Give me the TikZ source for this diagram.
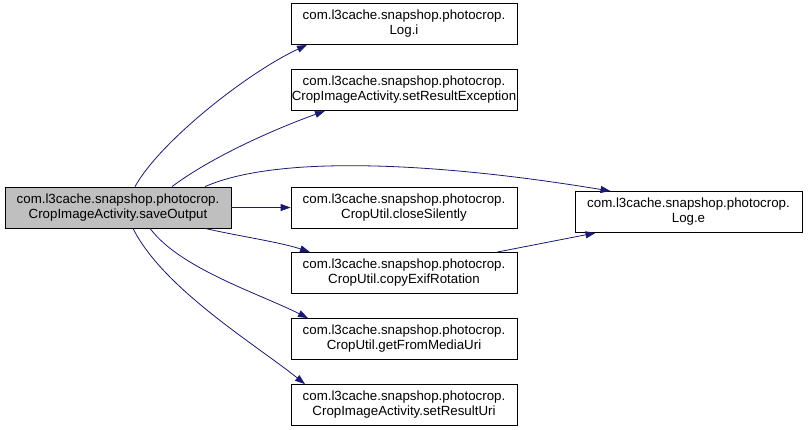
\documentclass[tikz,border=0pt]{standalone}
\usepackage{fontspec}
\setmainfont{Liberation Sans}
\usetikzlibrary{arrows.meta}
\definecolor{edgeblue}{HTML}{191970}
\definecolor{boxgray}{HTML}{BFBFBF}
\begin{document}
\begin{tikzpicture}[x=1pt,y=-1pt,
 fn/.style={draw=black, line width=0.8pt, fill=white, minimum width=226pt, minimum height=41pt, inner sep=0pt, align=center, font=\fontsize{13.3}{15}\selectfont},
 edge/.style={draw=edgeblue, line width=0.8pt, -{Triangle[length=10pt,width=7pt]}}]
\useasboundingbox (0,0) rectangle (808,429);
\node[fn, fill=boxgray] (save) at (118,207.5) {com.l3cache.snapshop.photocrop.\\CropImageActivity.saveOutput};
\node[fn] (logi) at (404,24) {com.l3cache.snapshop.photocrop.\\Log.i};
\node[fn] (sre) at (404,90) {com.l3cache.snapshop.photocrop.\\CropImageActivity.setResultException};
\node[fn] (cs) at (404,207.5) {com.l3cache.snapshop.photocrop.\\CropUtil.closeSilently};
\node[fn] (cer) at (404,273) {com.l3cache.snapshop.photocrop.\\CropUtil.copyExifRotation};
\node[fn] (gfm) at (404,339) {com.l3cache.snapshop.photocrop.\\CropUtil.getFromMediaUri};
\node[fn] (sru) at (404,405) {com.l3cache.snapshop.photocrop.\\CropImageActivity.setResultUri};
\node[fn, minimum width=227pt] (loge) at (688.5,212) {com.l3cache.snapshop.photocrop.\\Log.e};
\draw[edge] ([xshift=17pt]save.north) .. controls +(25,-45) and +(-60,28) .. ([xshift=-97pt]logi.south);
\draw[edge] ([xshift=54pt]save.north) .. controls +(40,-30) and +(-50,18) .. ([xshift=-79pt]sre.south);
\draw[edge] ([xshift=87pt]save.north) .. controls +(80,-35) and +(-150,-25) .. ([xshift=-78pt]loge.north);
\draw[edge] (save.east) -- (cs.west);
\draw[edge] ([xshift=87pt]save.south) .. controls +(35,8) and +(-30,-10) .. ([xshift=-94pt]cer.north);
\draw[edge] ([xshift=32pt]save.south) .. controls +(30,40) and +(-50,-25) .. ([xshift=-96pt]gfm.north);
\draw[edge] ([xshift=15pt]save.south) .. controls +(30,60) and +(-50,-40) .. ([xshift=-99pt]sru.north);
\draw[edge] ([xshift=93pt]cer.north) -- ([xshift=-93pt]loge.south);
\end{tikzpicture}
\end{document}
